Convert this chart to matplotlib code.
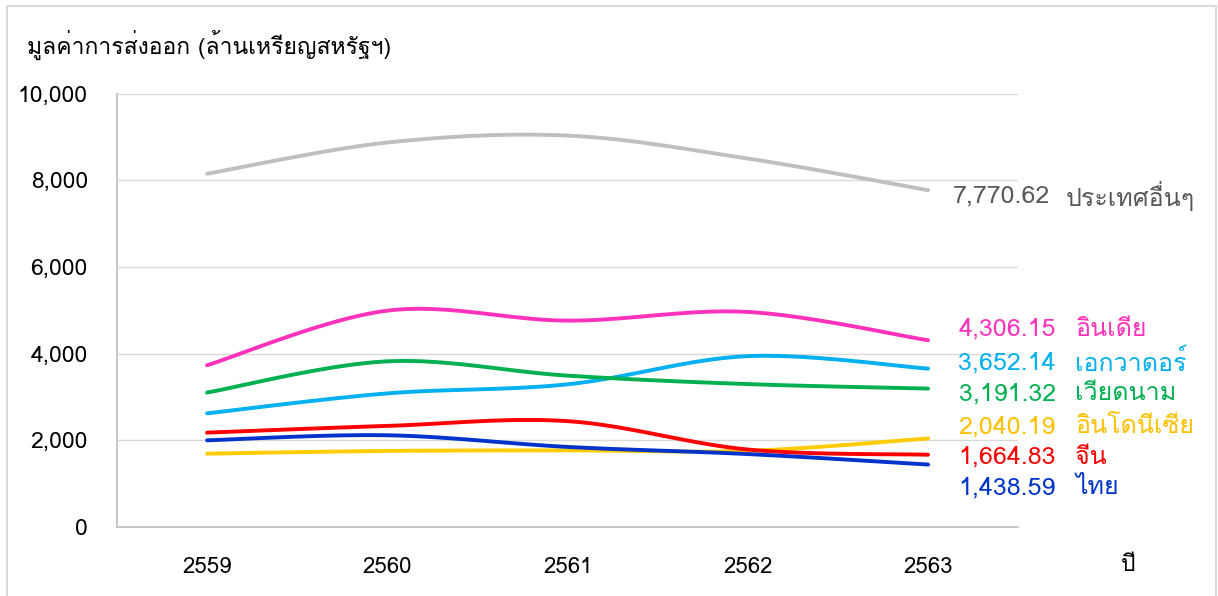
import numpy as np
import matplotlib
matplotlib.use("Agg")
import matplotlib.pyplot as plt
from matplotlib import font_manager
from matplotlib.ft2font import FT2Font
from matplotlib.patches import Rectangle

# data (million US$)
years = [2559, 2560, 2561, 2562, 2563]
other = [8150, 8870, 9030, 8500, 7770.62]
india = [3730, 4990, 4760, 4960, 4306.15]
ecuador = [2620, 3080, 3290, 3940, 3652.14]
vietnam = [3100, 3820, 3490, 3295, 3191.32]
indonesia = [1690, 1752, 1765, 1755, 2040.19]
china = [2175, 2330, 2440, 1785, 1664.83]
thailand = [1998, 2114, 1845, 1680, 1438.59]

names = ["ประเทศอื่นๆ", "อินเดีย", "เอกวาดอร์", "เวียดนาม", "อินโดนีเซีย", "จีน", "ไทย"]
series = [other, india, ecuador, vietnam, indonesia, china, thailand]
colors = ["#BFBFBF", "#FF33BB", "#00B0F0", "#00B050", "#FFCC00", "#FF0000", "#0033CC"]
label_colors = ["#595959", "#FF33BB", "#00B0F0", "#00B050", "#FFC000", "#FF0000", "#0033CC"]
# vertical nudge (points) of the end labels so they don't collide
label_dy = [-4.3, 8, 4, -3.6, 8.6, -2, -16.6]

# find something that can draw Thai
thai_font = None
for path in sorted(font_manager.findSystemFonts()):
    try:
        if 0x0E01 in FT2Font(path).get_charmap():
            thai_font = font_manager.FontProperties(fname=path).get_name()
            break
    except Exception:
        pass
if thai_font:
    font_manager.fontManager.addfont(path)
    plt.rcParams['font.family'] = [thai_font, 'DejaVu Sans']
else:
    plt.rcParams['font.family'] = ['DejaVu Sans']


def smooth(x, y, n=30):
    # excel-like smoothed line: cubic bezier through the points
    x = np.asarray(x, float)
    y = np.asarray(y, float)
    px = np.concatenate([[x[0]], x, [x[-1]]])
    py = np.concatenate([[y[0]], y, [y[-1]]])
    xs, ys = [], []
    t = np.linspace(0, 1, n)
    for i in range(1, len(x)):
        p0 = np.array([px[i], py[i]])
        p3 = np.array([px[i + 1], py[i + 1]])
        c1 = p0 + (np.array([px[i + 1], py[i + 1]]) - np.array([px[i - 1], py[i - 1]])) / 6
        c2 = p3 - (np.array([px[i + 2], py[i + 2]]) - np.array([px[i], py[i]])) / 6
        b = ((1 - t) ** 3)[:, None] * p0 + (3 * (1 - t) ** 2 * t)[:, None] * c1 \
            + (3 * (1 - t) * t ** 2)[:, None] * c2 + (t ** 3)[:, None] * p3
        xs.extend(b[:, 0])
        ys.extend(b[:, 1])
    return np.array(xs), np.array(ys)


fig = plt.figure(figsize=(12.18, 5.96), dpi=100)
ax = fig.add_axes([0.096, 0.116, 0.740, 0.727])

for vals, c in zip(series, colors):
    sx, sy = smooth(years, vals)
    ax.plot(sx, sy, color=c, lw=2.8, solid_capstyle='round', zorder=3)

for vals, name, c, dy in zip(series, names, label_colors, label_dy):
    if name == names[0]:
        gap, gap2 = 88, 99
    else:
        gap, gap2 = 92, 106
    ax.annotate("{:,.2f}".format(vals[-1]), xy=(years[-1], vals[-1]),
                xytext=(gap, dy), textcoords='offset points',
                ha='right', va='center', fontsize=18, color=c,
                annotation_clip=False)
    ax.annotate(name, xy=(years[-1], vals[-1]),
                xytext=(gap2, dy), textcoords='offset points',
                ha='left', va='center', fontsize=18, color=c,
                annotation_clip=False)

ax.set_xlim(2558.5, 2563.5)
ax.set_ylim(0, 10000)
ax.set_xticks(years)
ax.set_yticks(range(0, 10001, 2000))
ax.yaxis.set_major_formatter(matplotlib.ticker.FuncFormatter(lambda v, p: "{:,.0f}".format(v)))
ax.tick_params(length=0, labelsize=16.5, colors='black')
ax.tick_params(axis='x', pad=22, labelsize=16)
ax.tick_params(axis='y', pad=21)
ax.grid(axis='y', color='#D9D9D9', lw=1)
ax.set_axisbelow(True)
for s in ['top', 'right']:
    ax.spines[s].set_visible(False)
for s in ['left', 'bottom']:
    ax.spines[s].set_color('#C8C8C8')
    ax.spines[s].set_linewidth(1.5)

fig.text(0.022, 0.924, "มูลค่าการส่งออก (ล้านเหรียญสหรัฐฯ)", fontsize=16.5, va='center')
fig.text(0.92, 0.052, "ปี", fontsize=16.5, va='center')

# outer chart border
fig.patches.append(Rectangle((0.006, -0.01), 0.992, 1.0, transform=fig.transFigure,
                             fill=False, edgecolor='#D9D9D9', lw=1.5))

plt.savefig("out.png", dpi=100)
